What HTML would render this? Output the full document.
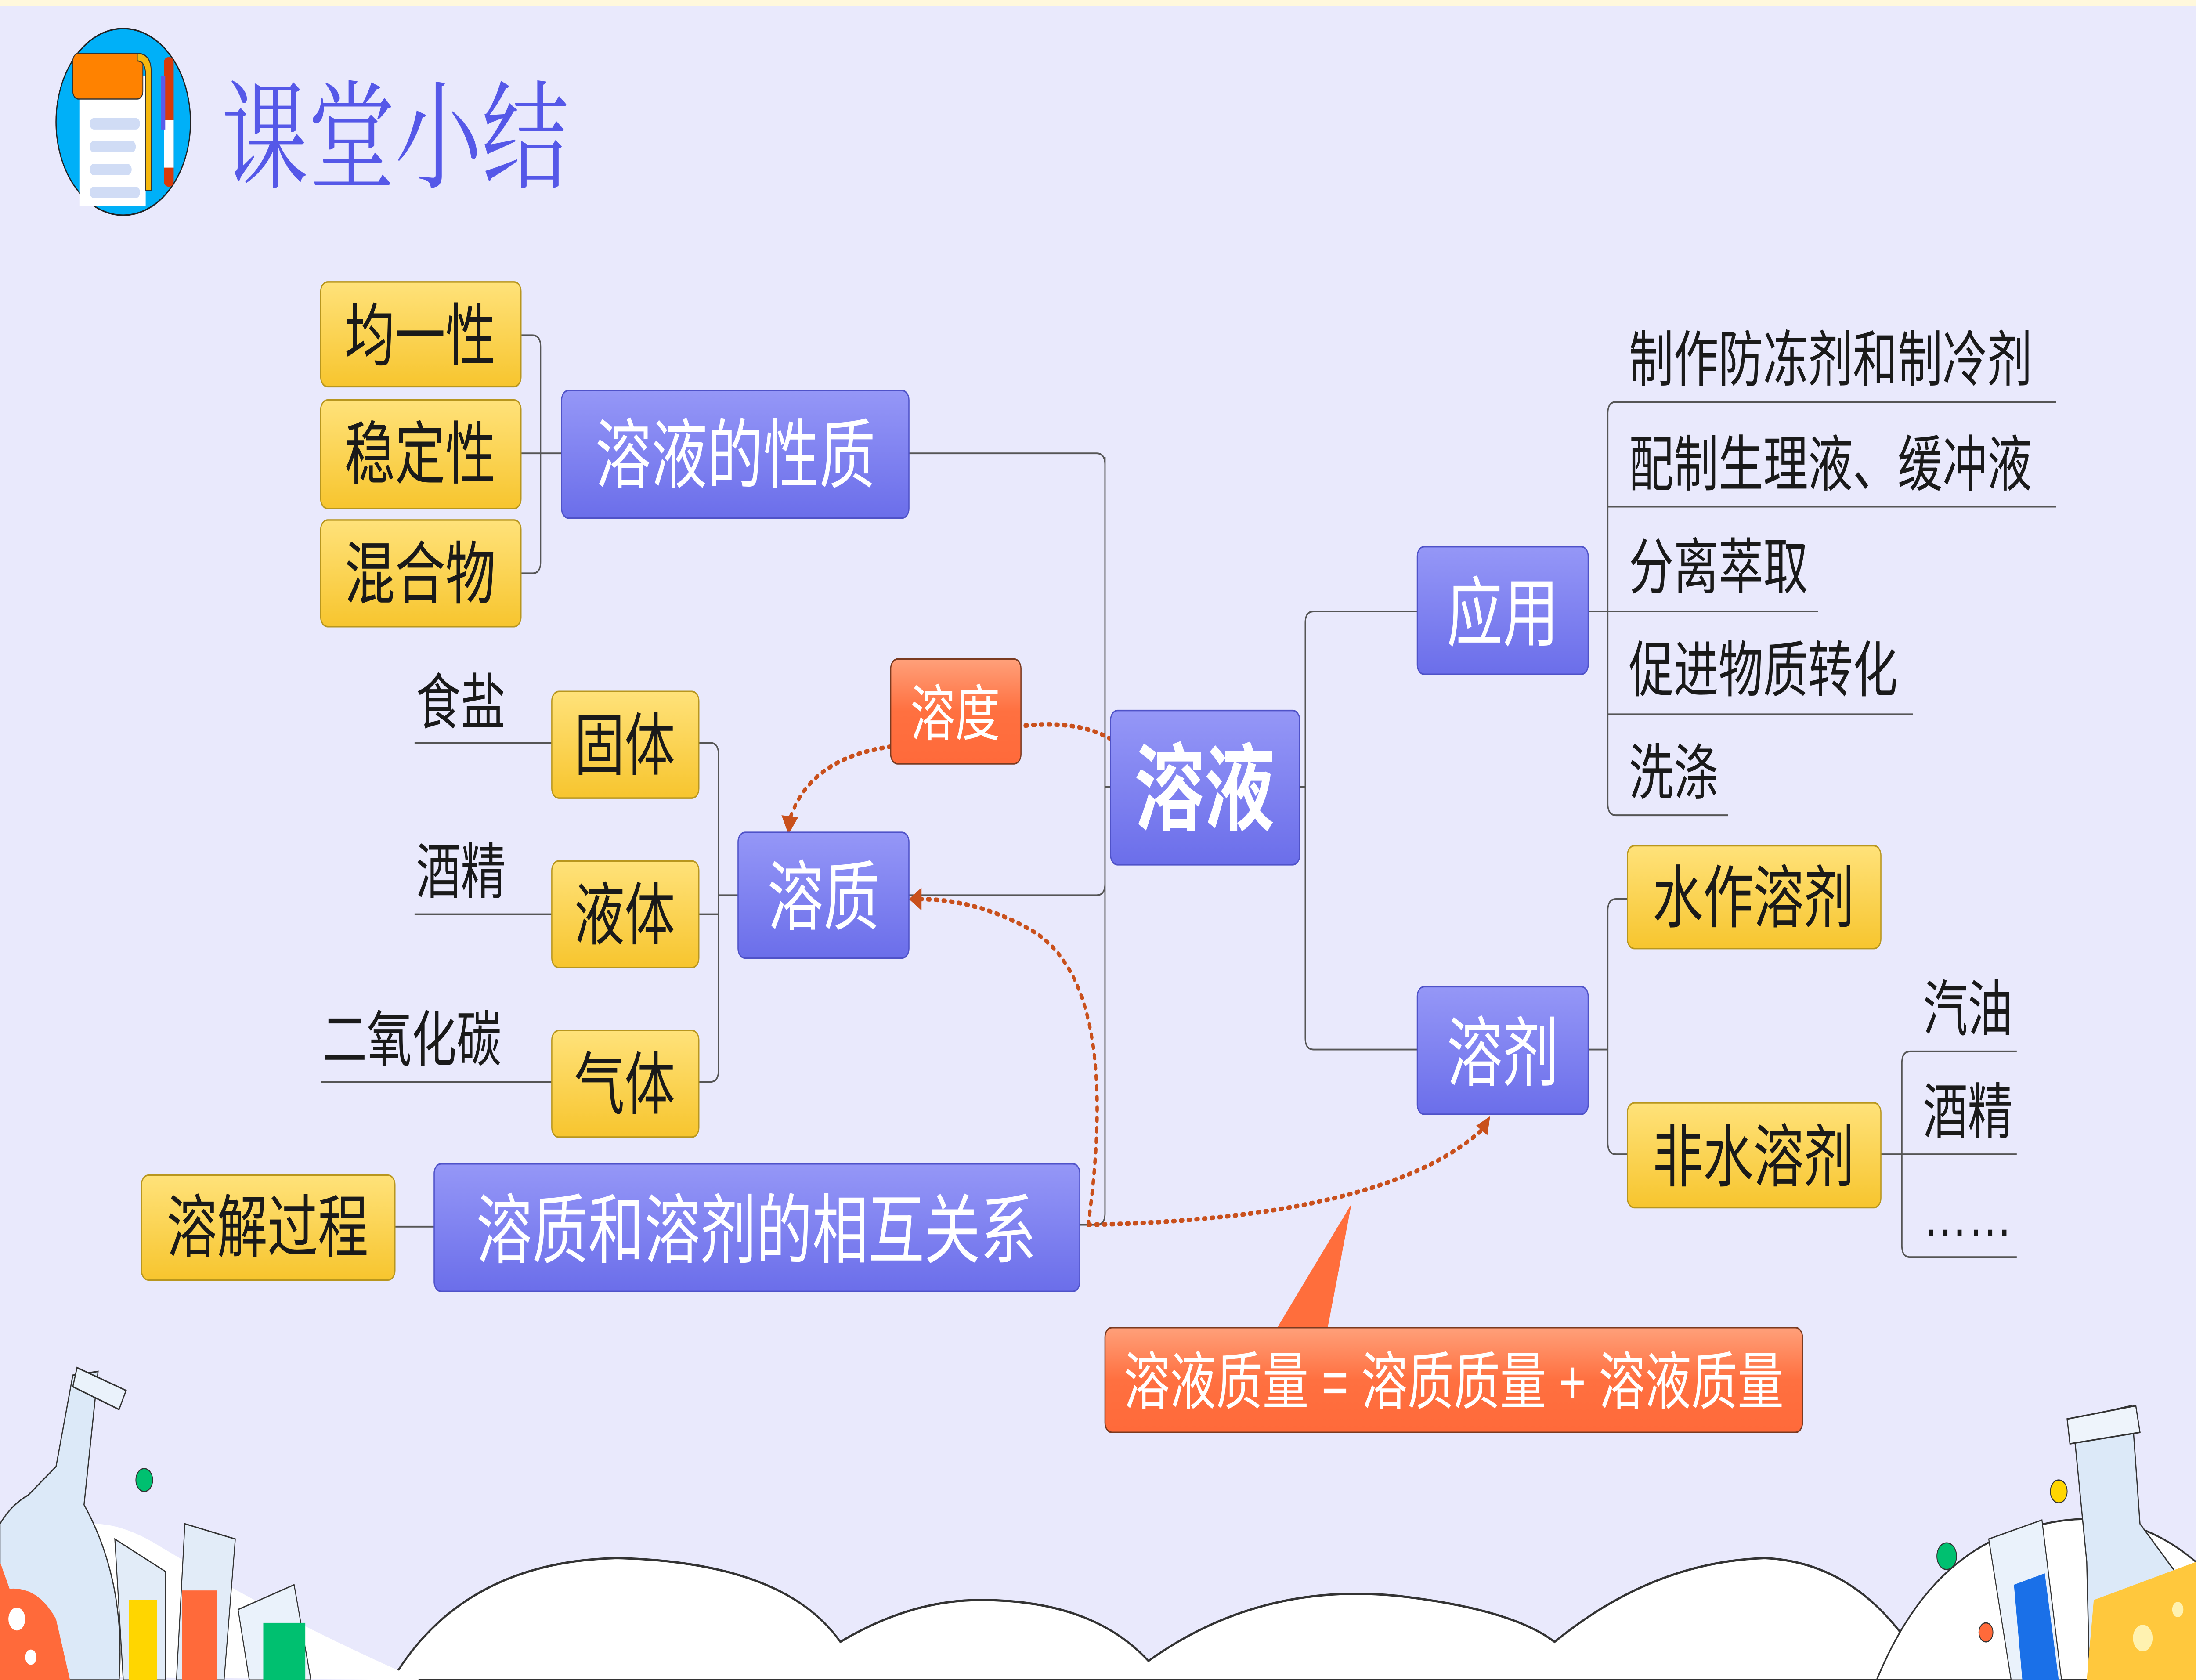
<!DOCTYPE html>
<html><head><meta charset="utf-8"><style>
html,body{margin:0;padding:0;background:#E9E9FC;width:100%;height:100%;overflow:hidden;}
svg{display:block;position:fixed;left:0;top:0;width:100vw;height:100vh;}
text{font-family:"Liberation Sans","Noto Sans CJK SC",sans-serif;}
</style></head><body>
<svg viewBox="0 0 1568 882" preserveAspectRatio="none" xmlns="http://www.w3.org/2000/svg">
<defs>
<linearGradient id="gb" x1="0" y1="0" x2="0" y2="1"><stop offset="0" stop-color="#9597F7"/><stop offset="1" stop-color="#6B6EEA"/></linearGradient>
<linearGradient id="gy" x1="0" y1="0" x2="0" y2="1"><stop offset="0" stop-color="#FFE27A"/><stop offset="1" stop-color="#F7C52E"/></linearGradient>
<linearGradient id="go" x1="0" y1="0" x2="0" y2="1"><stop offset="0" stop-color="#FFA07A"/><stop offset="0.5" stop-color="#FF7040"/><stop offset="1" stop-color="#FF6A3A"/></linearGradient>
</defs>
<rect width="1568" height="882" fill="#E9E9FC"/>
<rect width="1568" height="3" fill="#FFF8DC"/>

<!-- title icon -->
<ellipse cx="88" cy="64" rx="48" ry="49" fill="#00B0F8" stroke="#222" stroke-width="0.8"/>
<rect x="57" y="40" width="47" height="68" fill="#fff"/>
<rect x="52" y="28" width="50" height="24" rx="4" fill="#FF8200" stroke="#333" stroke-width="0.6"/>
<path d="M98 28 q10 0 10 10 v62 h-4 v-60 q0-8-6-8z" fill="#F5B80F" stroke="#333" stroke-width="0.6"/>
<rect x="117" y="30" width="7" height="68" rx="3" fill="#D83A0A"/>
<rect x="117" y="63" width="7" height="25" fill="#fff"/>
<rect x="115" y="40" width="3" height="28" fill="#5B5BE8"/>
<rect x="64" y="62" width="36" height="6" rx="3" fill="#D0DCF5"/>
<rect x="64" y="74" width="33" height="6" rx="3" fill="#D0DCF5"/>
<rect x="64" y="86" width="30" height="6" rx="3" fill="#D0DCF5"/>
<rect x="64" y="98" width="36" height="6" rx="3" fill="#D0DCF5"/>
<text x="158" y="94" font-size="62" fill="#5558E8" style='font-family:"Liberation Serif","Noto Serif CJK SC",serif'>课堂小结</text>

<!-- connector lines -->
<g fill="none" stroke="#555" stroke-width="0.9">
<path d="M372 176 h8 q6 0 6 6 v113 q0 6-6 6 h-8 M372 238 h29"/>
<path d="M649 238 h134 q6 0 6 6 v220 q0 6-6 6 h-134 M789 240 v397 q0 6-6 6 h-12 M789 413 h4"/>
<path d="M928 413 h4 M932 413 v-86 q0-6 6-6 h74 M932 413 v132 q0 6 6 6 h74"/>
<path d="M1134 321 h14 M1148 321 v101 q0 6 6 6 h80 M1148 321 v-104 q0-6 6-6 h314 M1148 266 h320 M1148 321 h150 M1148 375 h218"/>
<path d="M1134 551 h14 M1148 551 v-73 q0-6 6-6 h8 M1148 551 v49 q0 6 6 6 h8"/>
<path d="M1343 606 h15 M1358 606 v-48 q0-6 6-6 h76 M1358 606 v48 q0 6 6 6 h76 M1358 606 h82"/>
<path d="M527 470 h-14 M513 470 v-74 q0-6-6-6 h-8 M513 470 v92 q0 6-6 6 h-8 M499 480 h14"/>
<path d="M394 390 h-98 M394 480 h-98 M394 568 h-165"/>
<path d="M282 644 h28"/>
</g>

<!-- dotted arrows -->
<g fill="none" stroke="#C9501C" stroke-width="2.4" stroke-dasharray="1.5 4" stroke-linecap="round">
<path d="M793 388 Q770 378 731 381"/>
<path d="M636 392 Q578 398 564 430"/>
<path d="M777 643 Q800 520 740 490 Q700 472 655 472"/>
<path d="M777 643 Q990 640 1060 592"/>
</g>
<g fill="#C9501C">
<path d="M558 428 l12 1 -7 9z"/>
<path d="M649 472 l9 -6 0 12z"/>
<path d="M1064 586 l-2 10 -8 -5z"/>
</g>

<!-- yellow nodes -->
<g stroke="#B8961E" stroke-width="0.8" fill="url(#gy)">
<rect x="229" y="148" width="143" height="55" rx="5"/>
<rect x="229" y="210" width="143" height="57" rx="5"/>
<rect x="229" y="273" width="143" height="56" rx="5"/>
<rect x="394" y="363" width="105" height="56" rx="5"/>
<rect x="394" y="452" width="105" height="56" rx="5"/>
<rect x="394" y="541" width="105" height="56" rx="5"/>
<rect x="101" y="617" width="181" height="55" rx="5"/>
<rect x="1162" y="444" width="181" height="54" rx="5"/>
<rect x="1162" y="579" width="181" height="55" rx="5"/>
</g>
<g font-size="36" fill="#1a1a1a" text-anchor="middle">
<text x="300" y="189">均一性</text>
<text x="300" y="251">稳定性</text>
<text x="300" y="314">混合物</text>
<text x="446" y="404">固体</text>
<text x="446" y="493">液体</text>
<text x="446" y="582">气体</text>
<text x="191" y="657">溶解过程</text>
<text x="1252" y="484">水作溶剂</text>
<text x="1252" y="620">非水溶剂</text>
</g>

<!-- blue nodes -->
<g stroke="#4F52C8" stroke-width="0.8" fill="url(#gb)">
<rect x="401" y="205" width="248" height="67" rx="5"/>
<rect x="793" y="373" width="135" height="81" rx="5"/>
<rect x="527" y="437" width="122" height="66" rx="5"/>
<rect x="310" y="611" width="461" height="67" rx="5"/>
<rect x="1012" y="287" width="122" height="67" rx="5"/>
<rect x="1012" y="518" width="122" height="67" rx="5"/>
</g>
<g fill="#fff" text-anchor="middle" font-size="40">
<text x="525" y="253">溶液的性质</text>
<text x="860" y="432" font-size="50" font-weight="bold">溶液</text>
<text x="588" y="485">溶质</text>
<text x="540" y="660">溶质和溶剂的相互关系</text>
<text x="1073" y="336">应用</text>
<text x="1073" y="567">溶剂</text>
</g>

<!-- orange -->
<path d="M912 697 L965 632 L948 697z" fill="#FF6E3C"/>
<g stroke="#7a3a20" stroke-width="0.8" fill="url(#go)">
<rect x="636" y="346" width="93" height="55" rx="5"/>
<rect x="789" y="697" width="498" height="55" rx="5"/>
</g>
<g fill="#fff" text-anchor="middle">
<text x="682" y="386" font-size="32">溶度</text>
<text x="1038" y="737" font-size="33">溶液质量 = 溶质质量 + 溶液质量</text>
</g>

<!-- plain labels -->
<g font-size="32" fill="#1a1a1a">
<text x="1163" y="200">制作防冻剂和制冷剂</text>
<text x="1163" y="255">配制生理液、缓冲液</text>
<text x="1163" y="309">分离萃取</text>
<text x="1163" y="363">促进物质转化</text>
<text x="1163" y="417">洗涤</text>
<text x="1373" y="541">汽油</text>
<text x="1373" y="595">酒精</text>
<text x="1373" y="649">……</text>
<text x="297" y="380">食盐</text>
<text x="297" y="469">酒精</text>
<text x="230" y="557">二氧化碳</text>
</g>

<!-- bottom decorations -->
<path d="M280 882 Q330 820 440 818 Q560 820 600 862 Q650 840 700 840 Q780 840 820 872 Q900 830 1000 838 Q1080 845 1110 862 Q1180 820 1260 818 Q1320 820 1360 860 L1360 882z" fill="#fff" stroke="#333" stroke-width="1.2"/>
<path d="M0 880 L0 840 Q40 780 110 810 Q200 850 300 882z" fill="#fff"/>
<path d="M1340 882 Q1380 810 1460 800 Q1520 790 1568 820 L1568 882z" fill="#fff" stroke="#333" stroke-width="1"/>
<path d="M52 722 L70 720 L60 790 Q90 830 85 882 L0 882 L0 800 Q8 790 20 785 L40 770z" fill="#DCE9F8" stroke="#333" stroke-width="0.8"/>
<path d="M0 820 L30 882 L0 882z" fill="#FF6A3A"/>
<path d="M0 835 Q25 830 40 850 L50 882 L0 882z" fill="#FF6A3A"/>
<circle cx="12" cy="850" r="6" fill="#fff"/><circle cx="22" cy="870" r="4" fill="#fff"/>
<path d="M55 718 L90 730 L85 740 L52 728z" fill="#EAF2FB" stroke="#333" stroke-width="0.8"/>
<path d="M82 808 L118 825 L118 882 L88 882z" fill="#E2ECF8" stroke="#333" stroke-width="0.7"/>
<rect x="92" y="840" width="20" height="42" fill="#FFD600"/>
<path d="M132 800 L168 808 L160 882 L126 882z" fill="#E2ECF8" stroke="#333" stroke-width="0.7"/>
<rect x="130" y="835" width="25" height="47" fill="#FF6A3A"/>
<path d="M170 845 L210 832 L222 882 L178 882z" fill="#EAF2FB" stroke="#333" stroke-width="0.7"/>
<rect x="188" y="852" width="30" height="30" fill="#00C070"/>
<circle cx="103" cy="777" r="6" fill="#00C070" stroke="#333" stroke-width="0.6"/>
<path d="M1480 745 L1522 738 L1528 800 L1568 840 L1568 882 L1492 882 L1490 820z" fill="#DCE9F8" stroke="#333" stroke-width="0.8"/>
<path d="M1476 745 L1525 738 L1528 752 L1478 758z" fill="#EEF4FB" stroke="#333" stroke-width="0.8"/>
<path d="M1495 840 L1568 820 L1568 882 L1490 882z" fill="#FFC83D"/>
<circle cx="1530" cy="860" r="7" fill="#FFF2B0"/><circle cx="1555" cy="845" r="4" fill="#FFF2B0"/>
<path d="M1420 808 L1458 798 L1472 882 L1436 882z" fill="#EAF2FB" stroke="#333" stroke-width="0.7"/>
<path d="M1438 832 L1460 826 L1470 882 L1444 882z" fill="#1A70E8"/>
<circle cx="1470" cy="783" r="6" fill="#FFD600" stroke="#333" stroke-width="0.6"/>
<circle cx="1390" cy="817" r="7" fill="#00C070" stroke="#333" stroke-width="0.6"/>
<circle cx="1418" cy="857" r="5" fill="#FF6A3A" stroke="#333" stroke-width="0.6"/>
</svg>
</body></html>
